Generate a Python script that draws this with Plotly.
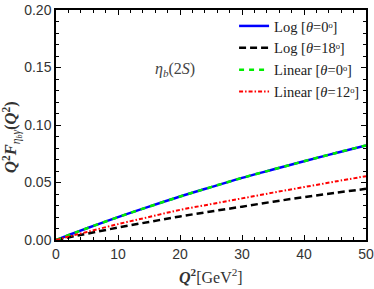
import plotly.graph_objects as go

q2 = [0, 2.5, 5, 10, 15, 20, 25, 30, 35, 40, 45, 50]
log_theta0 = [0, 0.0052, 0.0102, 0.0199, 0.0290, 0.0378, 0.0460, 0.0540, 0.0613, 0.0685, 0.0755, 0.0823]
log_theta18 = [0, 0.0028, 0.0055, 0.0108, 0.0157, 0.0205, 0.0248, 0.0290, 0.0333, 0.0373, 0.0410, 0.0445]
linear_theta0 = [0, 0.0052, 0.0102, 0.0199, 0.0290, 0.0378, 0.0460, 0.0540, 0.0613, 0.0685, 0.0755, 0.0823]
linear_theta12 = [0, 0.0036, 0.0070, 0.0138, 0.0200, 0.0262, 0.0312, 0.0362, 0.0412, 0.0460, 0.0508, 0.0555]

names = ["Log [<i>θ</i>=0ᵒ]", "Log [<i>θ</i>=18ᵒ]",
         "Linear [<i>θ</i>=0ᵒ]", "Linear [<i>θ</i>=12ᵒ]"]

fig = go.Figure()
fig.add_trace(go.Scatter(x=q2, y=log_theta0, mode="lines", name=names[0],
                         line=dict(color="#0000ff", width=2.5, shape="spline")))
fig.add_trace(go.Scatter(x=q2, y=log_theta18, mode="lines", name=names[1],
                         line=dict(color="#000000", width=2.5, dash="7px,4px", shape="spline")))
fig.add_trace(go.Scatter(x=q2, y=linear_theta0, mode="lines", name=names[2],
                         line=dict(color="#00ee00", width=2.5, dash="5px,5px", shape="spline")))
fig.add_trace(go.Scatter(x=q2, y=linear_theta12, mode="lines", name=names[3],
                         line=dict(color="#ff0000", width=2, dash="4px,2px,1.5px,2px", shape="spline")))

fig.add_annotation(x=19.2, y=0.148, xref="x", yref="y", showarrow=False,
                   text="<i>η</i><sub><i>b</i></sub>(2<i>S</i>)",
                   font=dict(family="Liberation Serif", size=16, color="#444"))

# axis titles
fig.add_annotation(x=-0.141, y=0.449, xref="paper", yref="paper", showarrow=False, textangle=-90,
                   xanchor="center", yanchor="middle",
                   text="<b><i>Q</i></b><sup><b>2</b></sup><b><i>F</i></b><sub><i>η<sub>b</sub>γ</i></sub><b>(<i>Q</i></b><sup><b>2</b></sup><b>)</b>",
                   font=dict(family="Liberation Serif", size=16.5, color="#333"))
fig.add_annotation(x=0.5, y=-0.157, xref="paper", yref="paper", showarrow=False,
                   xanchor="center", yanchor="middle",
                   text="<b><i>Q</i></b><sup><b>2</b></sup>[GeV<sup>2</sup>]",
                   font=dict(family="Liberation Serif", size=16, color="#333"))

axis_common = dict(showline=True, linecolor="black", linewidth=1.5, mirror="allticks",
                   ticks="inside", ticklen=5, tickwidth=1, tickcolor="black",
                   showgrid=False, zeroline=False, automargin=False,
                   tickfont=dict(family="Liberation Sans", size=14, color="#333"))

fig.update_xaxes(range=[0, 50], tickvals=[0, 10, 20, 30, 40, 50],
                 minor=dict(ticks="inside", ticklen=3, dtick=2, tickcolor="black", showgrid=False),
                 **axis_common)
fig.update_yaxes(range=[0, 0.2], tickvals=[0, 0.05, 0.10, 0.15, 0.20], tickformat=".2f",
                 minor=dict(ticks="inside", ticklen=3, dtick=0.01, tickcolor="black", showgrid=False),
                 **axis_common)

fig.update_layout(width=374, height=289, margin=dict(l=56, r=8, t=10, b=48.5, autoexpand=False),
                  plot_bgcolor="white", paper_bgcolor="white",
                  legend=dict(x=0.997, y=1.0, xanchor="right", yanchor="top", bgcolor="rgba(0,0,0,0)",
                              font=dict(family="Liberation Serif", size=14.5, color="#222"),
                              tracegroupgap=0, itemwidth=30))
fig.write_html("out.html", config={"displayModeBar": False},
               post_script="document.body.style.margin='0';")
